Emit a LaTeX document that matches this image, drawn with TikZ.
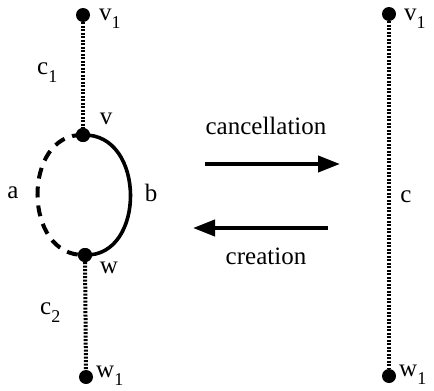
\documentclass[tikz,border=0pt]{standalone}
\usepackage{fontspec}
\setmainfont{Liberation Serif}
\usetikzlibrary{arrows.meta}
\newcommand{\sub}[1]{\raisebox{-0.32em}{\fontsize{18}{18}\selectfont #1}}
\begin{document}
\begin{tikzpicture}[x=1pt,y=-1pt,
  vtx/.style={circle,fill=black,inner sep=0pt,minimum size=14pt},
  lbl/.style={font=\fontsize{25}{25}\selectfont,inner sep=0pt},
  dotline/.style={line width=4pt,dash pattern=on 2pt off 1.5pt},
  dashline/.style={line width=4pt,dash pattern=on 11pt off 8pt},
  solidline/.style={line width=3.6pt},
  bigarrow/.style={line width=4pt,-{Triangle[length=22pt,width=16pt]}}]
\useasboundingbox (0,0) rectangle (434,391);
% left graph
\node[vtx] (v1) at (83,15) {};
\node[vtx] (v) at (83,135) {};
\node[vtx] (w) at (85,255) {};
\node[vtx] (w1) at (86,377) {};
\draw[dotline] (v1) -- (v);
\draw[dotline] (w) -- (w1);
\draw[solidline] (v.center) .. controls (146,133) and (146,257) .. (w.center);
\draw[dashline] (v.center) .. controls (22,133) and (22,257) .. (w.center);
\node[vtx] at (v) {};
\node[vtx] at (w) {};
% right graph
\node[vtx] (rv1) at (389,14) {};
\node[vtx] (rw1) at (389,376) {};
\draw[dotline] (rv1) -- (rw1);
% labels
\node[lbl,anchor=west] (lv1) at (99,19) {v\sub{1}};
\node[lbl,anchor=west] (lc1) at (37,73) {c\sub{1}};
\node[lbl] (lv) at (106,119) {v};
\node[lbl] (la) at (13,193) {a};
\node[lbl] (lb) at (151,193) {b};
\node[lbl] (lw) at (109,268) {w};
\node[lbl,anchor=west] (lc2) at (40,313) {c\sub{2}};
\node[lbl,anchor=west] (lw1) at (96,376) {w\sub{1}};
\node[lbl,anchor=west] (rlv1) at (404,19) {v\sub{1}};
\node[lbl] (lc) at (406,197) {c};
\node[lbl,anchor=west] (rlw1) at (399,375) {w\sub{1}};
% arrows
\node[lbl] (canc) at (266,126) {cancellation};
\node[lbl] (crea) at (266,256) {creation};
\coordinate (a1s) at (205,164);
\coordinate (a1e) at (340,164);
\coordinate (a2s) at (328,228);
\coordinate (a2e) at (193,228);
\draw[bigarrow] (a1s) -- (a1e);
\draw[bigarrow] (a2s) -- (a2e);
\end{tikzpicture}
\end{document}
